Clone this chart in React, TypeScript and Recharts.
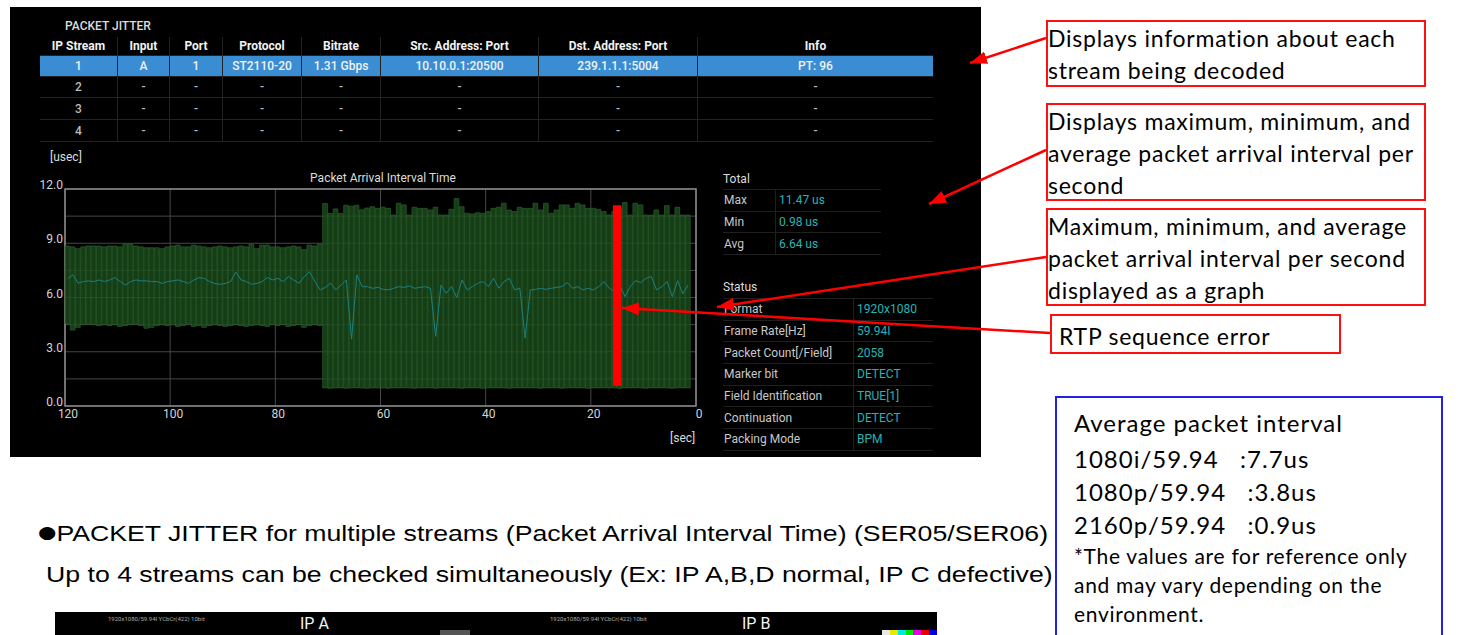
import React from "react";
import {
  ComposedChart, Bar, Line, XAxis, YAxis, CartesianGrid, ReferenceArea, ReferenceLine,
} from "recharts";

// per-second packet arrival interval (usec), oldest (120s ago) first
const MAX_US = [
  8.85, 8.8, 8.7, 8.8, 8.85, 8.85, 8.85, 8.8, 8.85, 8.85,
  8.8, 8.95, 8.95, 8.85, 8.8, 8.75, 8.75, 8.75, 8.7, 8.8,
  8.85, 8.9, 8.8, 8.8, 8.9, 8.85, 8.8, 8.75, 8.8, 8.85,
  8.8, 8.75, 8.8, 8.85, 8.8, 8.95, 8.7, 8.9, 8.9, 8.8,
  8.8, 8.75, 8.8, 8.85, 8.8, 8.65, 8.9, 8.85, 8.95,
  11.2, 10.65, 10.9, 10.65, 11.1, 11.05, 11.1, 10.85, 10.95, 11.02,
  10.93, 10.99, 10.93, 10.56, 11.21, 11.12, 10.56, 10.99, 10.93, 10.93,
  10.84, 10.99, 10.56, 10.56, 10.88, 11.47, 11.02, 10.66, 10.62, 10.69,
  10.66, 10.75, 10.93, 10.99, 11.21, 10.84, 10.75, 10.99, 10.93, 10.93,
  11.21, 10.84, 11.21, 10.66, 10.84, 11.12, 11.12, 10.93, 11.21, 11.12,
  10.93, 10.93, 10.88, 10.75, 10.56, 10.75, 10.93, 11.25, 10.56, 11.21,
  11.12, 10.56, 10.56, 10.84, 10.56, 11.08, 10.56, 10.99, 10.56, 10.56,
];

const MIN_US = [
  4.55, 4.2, 4.35, 4.5, 4.55, 4.5, 4.45, 4.5, 4.45, 4.5,
  4.4, 4.45, 4.5, 4.55, 4.45, 4.3, 4.35, 4.45, 4.5, 4.45,
  4.5, 4.4, 4.45, 4.55, 4.4, 4.45, 4.35, 4.45, 4.5, 4.45,
  4.4, 4.45, 4.5, 4.45, 4.4, 4.45, 4.5, 4.45, 4.4, 4.5,
  4.45, 4.5, 4.4, 4.45, 4.5, 4.35, 4.45, 4.5, 4.45,
  1.0, 0.98, 1.0, 1.0, 0.98, 1.0, 1.0, 1.0, 0.98, 1.0,
  1.0, 1.0, 0.98, 1.0, 1.0, 1.0, 1.0, 0.98, 1.0, 1.0,
  1.0, 0.98, 1.0, 1.0, 1.0, 1.0, 0.98, 1.0, 1.0, 1.0,
  0.98, 1.0, 1.0, 1.0, 1.0, 0.98, 1.0, 1.0, 1.0, 1.0,
  1.0, 0.98, 1.0, 1.0, 1.0, 0.98, 1.0, 1.0, 1.0, 1.0,
  0.98, 1.0, 1.0, 1.0, 1.0, 1.0, 0.98, 1.0, 1.0, 1.0,
  1.0, 0.98, 1.0, 1.0, 1.0, 1.0, 0.98, 1.0, 1.0, 1.0,
];

const AVG_US = [
  7.06, 7.25, 6.8, 6.88, 6.92, 6.88, 6.97, 6.88, 6.97, 7.1,
  6.88, 6.69, 6.88, 6.97, 6.92, 6.92, 6.88, 6.88, 6.78, 6.88,
  6.92, 6.97, 6.88, 6.78, 6.97, 7.1, 7.06, 6.88, 6.78, 6.73,
  6.78, 6.88, 7.4, 6.97, 6.88, 6.73, 6.78, 6.88, 7.1, 6.97,
  7.06, 6.88, 7.16, 6.97, 6.78, 7.16, 7.43, 6.9, 6.42,
  6.55, 6.79, 6.42, 6.69, 6.97, 3.7, 7.25, 6.6, 6.6, 6.51,
  6.56, 6.45, 6.42, 6.51, 6.6, 6.56, 6.64, 6.51, 6.56, 6.6,
  6.51, 3.85, 6.69, 6.23, 6.6, 6.0, 6.97, 6.42, 6.6, 6.79,
  6.88, 6.6, 7.06, 6.51, 6.88, 7.06, 6.42, 6.51, 3.75, 6.42,
  6.45, 6.51, 6.45, 6.51, 6.56, 6.6, 6.83, 6.51, 6.6, 6.42,
  6.51, 6.42, 6.6, 6.88, 6.51, 6.32, 6.69, 6.05, 6.6, 6.93,
  6.83, 7.06, 7.16, 6.42, 6.6, 6.88, 6.05, 6.93, 6.2, 6.7,
];

const X_TICKS = [120, 100, 80, 60, 40, 20, 0];
const Y_GRID = [0, 1.5, 3, 4.5, 6, 7.5, 9, 10.5, 12];
const RTP_ERROR = { at: 15, low: 1.1, high: 11.1 };

const STREAM_HEADERS = ["IP Stream", "Input", "Port", "Protocol", "Bitrate", "Src. Address: Port", "Dst. Address: Port", "Info"];
const STREAM_ROWS = [
  ["1", "A", "1", "ST2110-20", "1.31 Gbps", "10.10.0.1:20500", "239.1.1.1:5004", "PT: 96"],
  ["2", "-", "-", "-", "-", "-", "-", "-"],
  ["3", "-", "-", "-", "-", "-", "-", "-"],
  ["4", "-", "-", "-", "-", "-", "-", "-"],
];
const TOTAL_ROWS = [["Max", "11.47 us"], ["Min", "0.98 us"], ["Avg", "6.64 us"]];
const STATUS_ROWS = [
  ["Format", "1920x1080"], ["Frame Rate[Hz]", "59.94I"], ["Packet Count[/Field]", "2058"],
  ["Marker bit", "DETECT"], ["Field Identification", "TRUE[1]"], ["Continuation", "DETECT"],
  ["Packing Mode", "BPM"],
];
const INTERVAL_ROWS = ["1080i/59.94   :7.7us", "1080p/59.94   :3.8us", "2160p/59.94   :0.9us"];

const chartData = MAX_US.map((max, i) => ({
  t: 119.5 - i, max, min: MIN_US[i], avg: AVG_US[i],
}));

const UI = "Roboto, 'Liberation Sans', sans-serif";
const NOTE = "Lato, 'Noto Sans', sans-serif";
const TEAL = "#27b3b6";

// eslint-disable-next-line @typescript-eslint/no-explicit-any
const YTick = ({ x, y, payload }: any) =>
  payload.value % 3 !== 0 ? <g /> : (
    <text x={x} y={y - 4} textAnchor="end" dominantBaseline="central" fill="#d4d4d4" fontSize={12} fontFamily={UI}>
      {payload.value.toFixed(1)}
    </text>
  );

// eslint-disable-next-line @typescript-eslint/no-explicit-any
const XTick = ({ x, y, payload }: any) => (
  <text x={x + 3} y={y + 6} textAnchor="middle" dominantBaseline="central" fill="#d4d4d4" fontSize={12} fontFamily={UI}>
    {payload.value}
  </text>
);

function JitterChart() {
  return (
    <ComposedChart width={700} height={290} data={chartData} margin={{ top: 29, right: 14, bottom: 14, left: 5 }}>
      <CartesianGrid stroke="#474747" strokeWidth={1} />
      <XAxis dataKey="t" type="number" domain={[0, 120]} reversed ticks={X_TICKS} interval={0}
        axisLine={false} tickLine={false} tickSize={0} height={30} tick={<XTick />} />
      <YAxis type="number" domain={[0, 12]} ticks={Y_GRID} interval={0} width={50}
        axisLine={false} tickLine={false} tickSize={0} tick={<YTick />} />
      <ReferenceArea x1={120} x2={0} y1={0} y2={12} fill="none" fillOpacity={0} stroke="#8c8c8c" strokeWidth={1.5} ifOverflow="visible" />
      <Bar dataKey={(d: { min: number; max: number }) => [d.min, d.max]} barSize={5.26}
        fill="#1a4d1c" fillOpacity={0.8} stroke="#2b5f2d" strokeWidth={0.7} isAnimationActive={false} />
      <Line dataKey="avg" type="linear" stroke="#1c8080" strokeWidth={1} dot={false} activeDot={false} isAnimationActive={false} />
      <ReferenceLine
        segment={[{ x: RTP_ERROR.at, y: RTP_ERROR.low }, { x: RTP_ERROR.at, y: RTP_ERROR.high }]}
        stroke="#ff0000" strokeWidth={8.4} ifOverflow="visible" zIndex={1000}
      />
    </ComposedChart>
  );
}

const COL_EDGES = [40, 117, 169, 222, 301, 380, 538, 697, 933];
const ROW_EDGES = [37, 56, 77, 98, 120, 142];

function StreamTable() {
  const rows = [STREAM_HEADERS, ...STREAM_ROWS];
  return (
    <>
      {rows.map((r, ri) => (
        <div key={ri} style={{
          position: "absolute", left: 40, top: ROW_EDGES[ri], width: 893, height: ROW_EDGES[ri + 1] - ROW_EDGES[ri],
          background: ri === 1 ? "#3a8dd3" : "transparent", borderBottom: "1px solid #222", boxSizing: "border-box",
        }}>
          {r.map((c, ci) => (
            <div key={ci} style={{
              position: "absolute", left: COL_EDGES[ci] - 40, width: COL_EDGES[ci + 1] - COL_EDGES[ci], top: 0, bottom: 0,
              borderLeft: ci > 0 ? "1px solid #222" : "none", boxSizing: "border-box",
              display: "flex", alignItems: "center", justifyContent: "center",
              color: ri <= 1 ? "#f2f2f2" : "#bbbbbb", fontSize: 12, fontWeight: ri === 0 ? 700 : 500, fontFamily: UI,
            }}>{c}</div>
          ))}
        </div>
      ))}
    </>
  );
}

function KeyValueTable({ rows, left, top, width, split, rowH }: { rows: string[][]; left: number; top: number; width: number; split: number; rowH: number }) {
  return (
    <div style={{ position: "absolute", left, top, width, borderTop: "1px solid #1f1f1f" }}>
      {rows.map((r, i) => (
        <div key={i} style={{ position: "relative", height: rowH, borderBottom: "1px solid #1f1f1f", boxSizing: "border-box", fontFamily: UI, fontSize: 12 }}>
          <div style={{ position: "absolute", left: 1, top: 0, bottom: 0, display: "flex", alignItems: "center", color: "#c8c8c8" }}>{r[0]}</div>
          <div style={{ position: "absolute", left: split, top: 0, bottom: 0, borderLeft: "1px solid #1f1f1f", paddingLeft: 3, display: "flex", alignItems: "center", color: TEAL }}>{r[1]}</div>
        </div>
      ))}
    </div>
  );
}

const noteBox: React.CSSProperties = {
  position: "absolute", border: "2px solid #ff1010", boxSizing: "border-box",
  fontFamily: NOTE, fontSize: 23, letterSpacing: 0.75, lineHeight: "32px", color: "#000", whiteSpace: "nowrap",
};

const bodyLine: React.CSSProperties = {
  position: "absolute", fontFamily: "'Liberation Sans', Arial, sans-serif", fontSize: 21.5, color: "#000",
  whiteSpace: "nowrap", transform: "scaleX(1.24)", transformOrigin: "0 50%",
};

export default function App() {
  return (
    <div style={{ position: "absolute", left: 0, top: 0, width: 1474, height: 635, background: "#fff", overflow: "hidden" }}>
      <div style={{ position: "absolute", left: 10, top: 7, width: 971, height: 450, background: "#000" }} />
      <div style={{ position: "absolute", left: 65, top: 19, color: "#dcdcdc", fontSize: 12, fontFamily: UI, fontWeight: 500 }}>PACKET JITTER</div>
      <StreamTable />
      <div style={{ position: "absolute", left: 50, top: 150, color: "#dcdcdc", fontSize: 12, fontFamily: UI }}>[usec]</div>
      <div style={{ position: "absolute", left: 283, top: 171, width: 200, textAlign: "center", color: "#dcdcdc", fontSize: 12, fontFamily: UI }}>Packet Arrival Interval Time</div>
      <div style={{ position: "absolute", left: 10, top: 160 }}>
        <JitterChart />
      </div>
      <div style={{ position: "absolute", left: 670, top: 431, color: "#dcdcdc", fontSize: 12, fontFamily: UI }}>[sec]</div>

      <div style={{ position: "absolute", left: 723, top: 172, color: "#dcdcdc", fontSize: 12, fontFamily: UI }}>Total</div>
      <KeyValueTable rows={TOTAL_ROWS} left={723} top={189} width={158} split={52} rowH={21.7} />
      <div style={{ position: "absolute", left: 723, top: 280, color: "#dcdcdc", fontSize: 12, fontFamily: UI }}>Status</div>
      <KeyValueTable rows={STATUS_ROWS} left={723} top={298} width={210} split={130} rowH={21.7} />

      <div style={{ ...noteBox, left: 1046, top: 20, width: 380, height: 67 }}>
        Displays information about each<br />stream being decoded
      </div>
      <div style={{ ...noteBox, left: 1046, top: 103, width: 380, height: 98 }}>
        Displays maximum, minimum, and<br />average packet arrival interval per<br />second
      </div>
      <div style={{ ...noteBox, left: 1046, top: 208, width: 380, height: 98 }}>
        Maximum, minimum, and average<br />packet arrival interval per second<br />displayed as a graph
      </div>
      <div style={{ ...noteBox, left: 1050, top: 314, width: 291, height: 40, paddingLeft: 7, lineHeight: "40px" }}>
        RTP sequence error
      </div>

      <div style={{ position: "absolute", left: 1055, top: 396, width: 388, height: 260, border: "2px solid #2323dc", boxSizing: "border-box", fontFamily: NOTE, color: "#000", paddingLeft: 17, paddingTop: 8 }}>
        <div style={{ fontSize: 24, letterSpacing: 1, lineHeight: "34px", marginBottom: 2 }}>Average packet interval</div>
        {INTERVAL_ROWS.map((r) => (
          <div key={r} style={{ fontSize: 24, letterSpacing: 1, lineHeight: "33px", whiteSpace: "pre" }}>{r}</div>
        ))}
        <div style={{ fontSize: 21, letterSpacing: 0.7, lineHeight: "29px", marginTop: 0 }}>*The values are for reference only<br />and may vary depending on the<br />environment.</div>
      </div>

      <div style={{ ...bodyLine, left: 38, top: 522 }}>
        <span style={{ fontFamily: "'DejaVu Sans', sans-serif", fontSize: 17, position: "relative", top: -3 }}>●</span>PACKET JITTER for multiple streams (Packet Arrival Interval Time) (SER05/SER06)
      </div>
      <div style={{ ...bodyLine, left: 46, top: 563 }}>
        Up to 4 streams can be checked simultaneously (Ex: IP A,B,D normal, IP C defective)
      </div>

      <div style={{ position: "absolute", left: 55, top: 612, width: 882, height: 30, background: "#000" }}>
        <div style={{ position: "absolute", left: 53, top: 3, fontSize: 6, color: "#aaa", fontFamily: UI }}>1920x1080/59.94I YCbCr(422) 10bit</div>
        <div style={{ position: "absolute", left: 245, top: 2, fontSize: 16, color: "#f4f4f4", fontFamily: UI }}>IP A</div>
        <div style={{ position: "absolute", left: 495, top: 3, fontSize: 6, color: "#aaa", fontFamily: UI }}>1920x1080/59.94I YCbCr(422) 10bit</div>
        <div style={{ position: "absolute", left: 687, top: 2, fontSize: 16, color: "#f4f4f4", fontFamily: UI }}>IP B</div>
        <div style={{ position: "absolute", left: 385, top: 18, width: 30, height: 12, background: "#555" }} />
        <div style={{ position: "absolute", left: 827, top: 18, width: 55, height: 12, display: "flex" }}>
          {["#e8e8e8", "#e8e800", "#00e8e8", "#00e800", "#e800e8", "#e80000", "#0000e8"].map((c) => (
            <div key={c} style={{ flex: 1, background: c }} />
          ))}
        </div>
      </div>

      <svg width={1474} height={635} style={{ position: "absolute", left: 0, top: 0, pointerEvents: "none" }}>
        <defs>
          <marker id="ah" markerWidth={17} markerHeight={13} refX={17} refY={6.5} orient="auto" markerUnits="userSpaceOnUse">
            <path d="M0,0 L17,6.5 L0,13 z" fill="#ff0000" />
          </marker>
        </defs>
        {[[1046, 38, 970, 63], [1046, 150, 929, 204], [1046, 257, 717, 307], [1050, 333, 622, 308]].map(([x1, y1, x2, y2], i) => (
          <line key={i} x1={x1} y1={y1} x2={x2} y2={y2} stroke="#ff0000" strokeWidth={2.5} markerEnd="url(#ah)" />
        ))}
      </svg>
    </div>
  );
}
